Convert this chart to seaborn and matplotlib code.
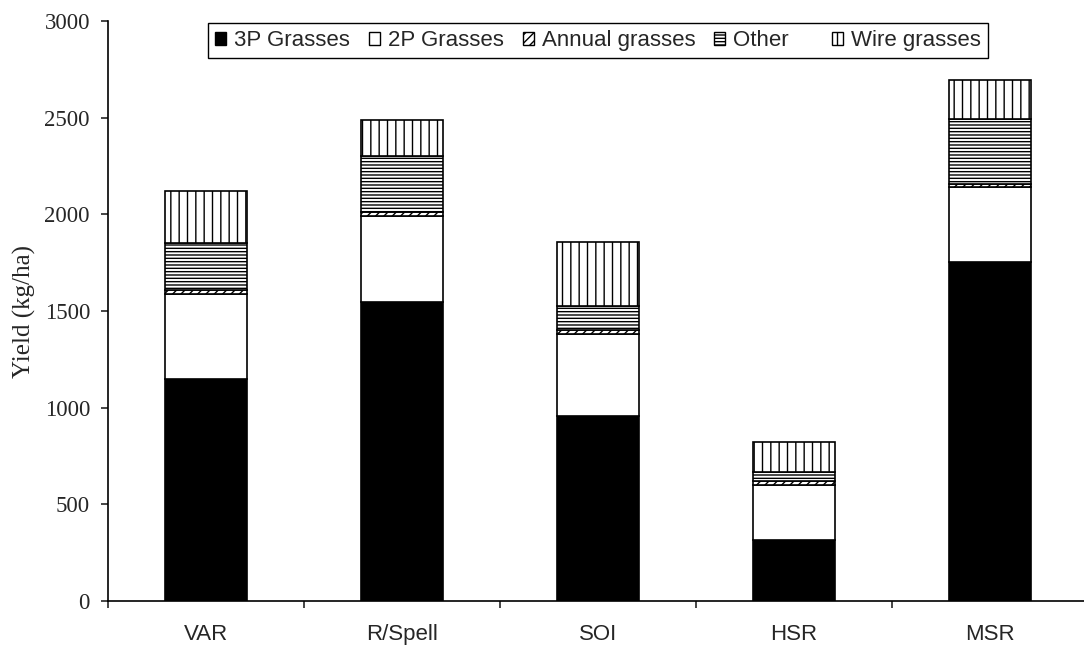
import matplotlib
matplotlib.use("Agg")
import matplotlib.pyplot as plt
import seaborn as sns
import numpy as np
import pandas as pd
from matplotlib.patches import Patch

categories = ["VAR", "R/Spell", "SOI", "HSR", "MSR"]
series_names = ["3P Grasses", "2P Grasses", "Annual grasses", "Other", "Wire grasses"]
grass_3p = [1150, 1545, 955, 315, 1755]
grass_2p = [440, 445, 425, 285, 385]
annual = [20, 20, 20, 20, 15]
other = [240, 290, 125, 45, 340]
wire = [270, 190, 330, 160, 200]
yticks = [0, 500, 1000, 1500, 2000, 2500, 3000]

sns.set_style("ticks")
plt.rcParams["hatch.linewidth"] = 1.0

fig = plt.figure(figsize=(10.84, 6.45), dpi=100)
ax = fig.add_axes([108/1084, 44/645, 980/1084, 580/645])

series = [grass_3p, grass_2p, annual, other, wire]
faces = ["black", "white", "white", "white", "white"]
hatches = [None, None, "////", "-----", "||"]

bottom = np.zeros(len(categories))
handles = []
for name, vals, fc, h in zip(series_names, series, faces, hatches):
    df = pd.DataFrame({"cat": categories, "val": vals})
    sns.barplot(data=df, x="cat", y="val", ax=ax, color=fc, bottom=bottom,
                width=0.42, edgecolor="black", linewidth=1.2, hatch=h,
                saturation=1, errorbar=None)
    bottom = bottom + np.array(vals)
    lab = name + "\u00a0" * 4 if name == "Other" else name
    handles.append(Patch(facecolor=fc, edgecolor="black", hatch=h, linewidth=1.0, label=lab))

ax.set_xlim(-0.5, 4.5)
ax.set_ylim(0, 3000)
ax.set_yticks(yticks)
ax.set_yticklabels([str(t) for t in yticks], fontfamily="Liberation Serif", fontsize=16.5)
ax.set_xlabel("")
ax.set_ylabel("Yield (kg/ha)", fontfamily="Liberation Serif", fontsize=18)
ax.yaxis.set_label_coords(-0.073, 0.5)
ax.tick_params(axis="x", which="major", length=0, pad=16.5, labelsize=16)
for lab in ax.get_xticklabels():
    lab.set_fontfamily("Liberation Sans")
ax.set_xticks(np.arange(-0.5, 4.0, 1.0), minor=True)
ax.tick_params(axis="x", which="minor", length=5, width=1.2, direction="out")
ax.tick_params(axis="y", length=5, width=1.2, direction="out", pad=8)
for s in ["top", "right"]:
    ax.spines[s].set_visible(False)
for s in ["left", "bottom"]:
    ax.spines[s].set_linewidth(1.2)
    ax.spines[s].set_color("black")

leg = ax.legend(handles=handles, loc="upper center", bbox_to_anchor=(0.5, 1.0), ncol=5,
                frameon=True, fancybox=False, edgecolor="black", framealpha=1,
                prop={"family": "Liberation Sans", "size": 16},
                handlelength=0.5, handleheight=0.5, handletextpad=0.35,
                columnspacing=0.85, borderaxespad=0.1, borderpad=0.32)
leg.get_frame().set_linewidth(1.0)

fig.savefig("out.png", dpi=100)
